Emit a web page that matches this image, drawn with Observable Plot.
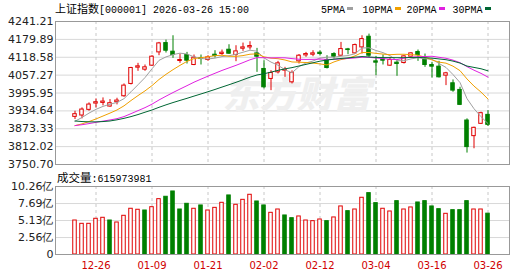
<!DOCTYPE html>
<html><head><meta charset="utf-8">
<script src="https://cdn.jsdelivr.net/npm/d3@7"></script>
<script src="https://cdn.jsdelivr.net/npm/@observablehq/plot@0.6"></script>
<style>
body{margin:0;background:#fff;}
#wrap{position:relative;width:530px;height:276px;overflow:hidden;background:#fff;}
#wrap svg{position:absolute;left:0;}
.t{position:absolute;white-space:nowrap;color:#000;line-height:12px;}
.cjk{font-family:"Noto Sans CJK SC";font-size:11px;}
.mono{font-family:"Liberation Mono","DejaVu Sans Mono",monospace;font-size:10px;}
.sw{position:absolute;width:6px;height:3px;}
</style></head><body><div id="wrap"></div>
<script>
const dates = ["12-23","12-24","12-25","12-26","12-29","12-30","12-31","01-05","01-06","01-07","01-08","01-09",
"01-12","01-13","01-14","01-15","01-16","01-19","01-20","01-21","01-22","01-23","01-26","01-27","01-28","01-29","01-30","02-02",
"02-03","02-04","02-05","02-06","02-09","02-10","02-11","02-12","02-13","02-24","02-25","02-26","02-27","03-02","03-03","03-04",
"03-05","03-06","03-09","03-10","03-11","03-12","03-13","03-16","03-17","03-18","03-19","03-20","03-23","03-24","03-25","03-26"];
const open = [3914.1,3918.7,3938.1,3959.7,3962.0,3949.5,3964.3,3984.8,4027.0,4082.9,4076.0,4089.7,4135.3,4167.2,4137.6,4105.7,4126.2,4092.0,4115.9,4109.1,
4127.3,4129.6,4144.4,4126.2,4147.8,4152.4,4131.8,4078.4,4044.2,4066.8,4072.6,4032.6,4104.5,4125.0,4127.3,4134.2,4109.1,4129.6,4123.9,4145.6,
4131.9,4152.4,4188.9,4104.5,4111.4,4089.7,4100.0,4098.8,4120.5,4136.4,4110.2,4092.0,4086.3,4055.5,4029.3,4006.5,3901.6,3848.0,3890.2,3921.0];
const high = [3933.5,3944.9,3962.0,3975.7,3979.1,3973.4,3978.0,4027.0,4084.0,4097.7,4092.0,4123.9,4169.5,4177.5,4192.3,4129.6,4135.3,4126.2,4126.2,4123.9,
4141.0,4143.3,4161.5,4158.1,4167.2,4171.8,4149.0,4106.8,4072.6,4104.5,4084.0,4072.0,4128.0,4135.3,4141.0,4141.0,4123.9,4134.2,4169.5,4149.0,
4163.8,4192.3,4198.0,4121.6,4126.2,4118.2,4106.8,4123.9,4134.2,4143.3,4129.6,4101.1,4104.5,4066.9,4040.7,4015.6,3907.3,3878.8,3930.1,3935.8];
const low = [3905.0,3907.3,3933.5,3944.9,3951.8,3947.2,3955.2,3981.4,4023.6,4070.3,4070.3,4087.4,4123.9,4133.0,4114.8,4097.7,4095.4,4089.7,4092.0,4104.5,
4115.9,4125.0,4128.5,4103.4,4138.7,4143.3,4066.8,4010.0,4004.0,4061.2,4049.7,4027.0,4095.4,4118.2,4120.5,4122.8,4078.3,4112.5,4121.6,4127.3,
4129.6,4129.6,4118.2,4055.5,4092.0,4087.4,4053.2,4095.4,4118.2,4104.5,4084.0,4047.5,4047.5,4021.3,3998.5,3952.9,3789.9,3804.7,3887.9,3881.1];
const close = [3923.3,3939.2,3956.3,3964.3,3966.6,3960.9,3970.0,4021.3,4081.7,4087.4,4084.0,4120.5,4166.1,4141.0,4126.2,4109.1,4106.8,4117.1,4112.5,4118.2,
4122.8,4134.2,4130.7,4138.7,4152.4,4157.0,4120.5,4015.5,4064.7,4097.6,4075.0,4064.7,4123.9,4129.6,4131.9,4129.6,4081.7,4120.5,4146.7,4143.3,
4160.4,4180.9,4123.9,4100.0,4106.8,4109.1,4095.4,4121.6,4131.9,4126.2,4092.0,4086.3,4049.8,4063.5,4004.2,3955.2,3810.4,3876.5,3926.7,3886.8];
const ma5 = [3899,3912,3927,3940,3950,3957.5,3963.6,3976.6,4000.1,4024.3,4048.9,4079,4107.9,4119.8,4127.6,4132.6,4129.8,4120,4114.3,4112.7,
4115.5,4121,4123.7,4128.9,4135.8,4142.6,4139.4,4116.4,4102,4091.3,4075.6,4065.3,4086.5,4099,4105.7,4115.9,4118.9,4118.7,4122.1,4124.4,
4130.5,4150.4,4151,4141.7,4134.4,4124.1,4107,4106.6,4113,4116.8,4113.4,4111.6,4097.2,4083.6,4059.2,4031.8,3976.6,3942,3914.6,3891.1];
const ma10 = [3884,3890,3898,3907,3917,3927,3937.8,3951.9,3970.1,3987.1,4003.2,4021.3,4042.3,4060,4076,4090.8,4104.4,4114,4117.1,4120.2,
4124,4125.4,4121.9,4121.6,4124.3,4129,4130.2,4120,4115.5,4113.6,4109.1,4102.4,4101.5,4100.5,4098.5,4095.8,4092.1,4102.6,4110.6,4115.1,
4123.2,4134.7,4134.9,4131.9,4129.4,4127.3,4128.7,4128.8,4127.4,4125.6,4118.8,4109.3,4101.9,4098.3,4088,4072.6,4044.1,4019.6,3999.1,3975.2];
const ma20 = [3884.2,3887.2,3891,3895.2,3899.5,3903.5,3908,3915,3925.1,3935.5,3945.7,3957.7,3972,3985,3997.5,4009.5,4021.1,4033,4043.6,4053.7,
4063.6,4073.4,4082.1,4090.8,4100.2,4109.9,4117.3,4117,4116.3,4116.9,4116.6,4113.9,4111.7,4111.1,4111.4,4112.4,4111.2,4111.3,4113.1,4114.4,
4116.2,4118.6,4118.2,4116.2,4114,4111.6,4110.4,4115.7,4119,4120.4,4121,4122,4118.4,4115.1,4108.7,4100,4086.4,4074.2,4063.3,4050.4];
const ma30 = [3900,3898,3897,3897,3898,3900,3904,3909,3915,3922,3930,3937.7,3946.9,3955.3,3963.2,3970.5,3977.7,3985.3,3992.7,4000.3,
4008.1,4016.3,4024.3,4032.6,4041.3,4050.2,4057.8,4062,4067.5,4073.6,4078.8,4083,4088.6,4094.1,4099.6,4105.2,4108.9,4112.2,4114.4,4116.3,
4118.8,4120.9,4119.4,4118,4117.4,4117.4,4117,4117.1,4117.8,4118.1,4117,4115.5,4112.8,4110.2,4105.3,4098.6,4088.3,4083.7,4079.1,4072];
const volume = [5.13,4.63,4.63,5.39,5.54,5.13,4.83,5.84,6.90,6.75,6.64,7.14,8.35,8.71,9.51,6.79,7.65,6.90,7.40,6.64,
7.04,7.80,8.91,7.50,8.25,9.01,8.00,7.40,6.29,6.79,5.89,5.48,5.74,5.13,5.03,5.28,5.03,5.59,7.25,6.54,
6.79,8.56,9.26,7.75,6.90,6.49,8.05,6.79,7.10,7.85,8.05,7.25,6.84,6.14,6.69,6.69,8.05,6.79,6.79,6.16];
const volUp = [1,1,1,1,1,0,1,1,1,1,0,1,1,0,0,0,0,1,0,1,1,1,0,1,1,1,0,0,1,1,0,0,1,1,1,1,0,1,1,0,1,1,0,0,1,1,0,1,1,0,0,0,0,1,0,0,0,1,1,0];
const priceTicks = [3750.70,3812.02,3873.33,3934.64,3995.95,4057.27,4118.58,4179.89,4241.21];
const volTicks = [0,2.56,5.13,7.69,10.26];
const labelDates = ["12-26","01-09","01-21","02-02","02-12","03-04","03-16","03-26"];
const maNames = ["5PMA","10PMA","20PMA","30PMA"];
const maColors = ["#a0a0a0","#f0a000","#e020e0","#006633"];

const RED = "#e00000", GREEN = "#008000";
const rows = dates.map((d,i)=>({date:d,open:open[i],high:high[i],low:low[i],close:close[i],
  ma5:ma5[i],ma10:ma10[i],ma20:ma20[i],ma30:ma30[i],vol:volume[i],volUp:volUp[i]}));
const xRange = [56.6, 504.8];
const upC = d => d.close >= d.open ? RED : GREEN;

const price = Plot.plot({
  width:530, height:176, marginTop:21, marginBottom:12, marginLeft:55, marginRight:21,
  style:{background:"transparent", fontFamily:"DejaVu Sans", fontSize:"11px", color:"#222"},
  x:{type:"band", domain:dates, range:xRange, padding:0, axis:null},
  y:{domain:[3750.70,4241.21], axis:null},
  color:{type:"identity"},
  marks:[
    Plot.ruleY(priceTicks, {stroke:"#d8d8d8"}),
    Plot.ruleX(labelDates, {x:d=>d, stroke:"#c8c8c8", strokeDasharray:"3,3"}),
    Plot.text(["东方财富"], {frameAnchor:"top-left", dx:167, dy:60, lineAnchor:"top", textAnchor:"start",
      fontSize:37, fontWeight:900, fontFamily:"Noto Sans CJK SC", fill:"#efefef", fontStyle:"italic"}),
    Plot.ruleX(rows, {x:"date", y1:"low", y2:"high", stroke:upC}),
    Plot.barY(rows, {x:"date", y1:"open", y2:"close", fill:d=>d.close>=d.open?"#fff":GREEN, stroke:upC, insetLeft:1.75, insetRight:1.75}),
    Plot.lineY(rows, {x:"date", y:"ma5", stroke:maColors[0], strokeWidth:1}),
    Plot.lineY(rows, {x:"date", y:"ma10", stroke:maColors[1], strokeWidth:1}),
    Plot.lineY(rows, {x:"date", y:"ma20", stroke:maColors[2], strokeWidth:1}),
    Plot.lineY(rows, {x:"date", y:"ma30", stroke:maColors[3], strokeWidth:1}),
    Plot.frame({stroke:"#999"}),
    Plot.axisY(priceTicks, {tickSize:0, tickPadding:2, label:null, tickFormat:d=>d.toFixed(2)})
  ]
});

const vol = Plot.plot({
  width:530, height:100, marginTop:10, marginBottom:22, marginLeft:55, marginRight:21,
  style:{background:"transparent", fontFamily:"DejaVu Sans", fontSize:"11px", color:"#222"},
  x:{type:"band", domain:dates, range:xRange, padding:0, axis:null},
  y:{domain:[0,10.26], axis:null},
  color:{type:"identity"},
  marks:[
    Plot.ruleY(volTicks.slice(1,4), {stroke:"#d8d8d8"}),
    Plot.ruleX(labelDates, {x:d=>d, stroke:"#c8c8c8", strokeDasharray:"3,3"}),
    Plot.barY(rows, {x:"date", y:"vol", fill:d=>d.volUp?"#fff":GREEN, stroke:d=>d.volUp?RED:GREEN, insetLeft:1.75, insetRight:1.75}),
    Plot.frame({stroke:"#999"}),
    Plot.axisY(volTicks, {tickSize:0, tickPadding:2, label:null, tickFormat:d=>d===0?"0":d.toFixed(2)+"亿"}),
    Plot.axisX(labelDates, {tickSize:0, tickPadding:7, label:null, fontSize:10, color:"#d00000"})
  ]
});

const wrap = document.getElementById("wrap");
price.style.top = "0px";
vol.style.top = "176px";
wrap.appendChild(price);
wrap.appendChild(vol);

function addText(html, left, top){
  const d = document.createElement("div");
  d.className = "t"; d.style.left = left+"px"; d.style.top = top+"px";
  d.innerHTML = html; wrap.appendChild(d);
}
addText('<span class="cjk">上证指数</span><span class="mono">[000001] 2026-03-26 15:00</span>', 55, 2);
const legX = [321, 362.5, 406.5, 452.5];
maNames.forEach((n,i)=>{
  addText('<span class="mono">'+n+'</span>', legX[i], 2);
  const s = document.createElement("div");
  s.className = "sw"; s.style.background = maColors[i];
  s.style.left = (legX[i] + n.length*6 + 2) + "px"; s.style.top = "7px";
  wrap.appendChild(s);
});
addText('<span class="cjk" style="font-size:11.5px">成交量</span><span class="mono">:615973981</span>', 57, 171);
</script></body></html>
